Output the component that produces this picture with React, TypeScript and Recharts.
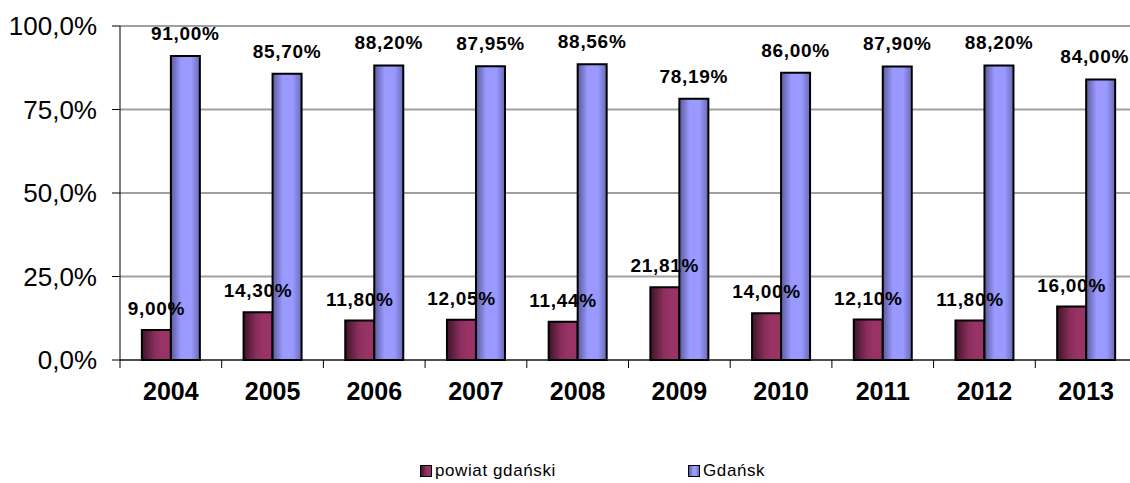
import React from 'react';
import { BarChart, Bar, XAxis, YAxis, CartesianGrid, LabelList } from 'recharts';

const years = ['2004', '2005', '2006', '2007', '2008', '2009', '2010', '2011', '2012', '2013'];
const powiatGdanski = [9.0, 14.3, 11.8, 12.05, 11.44, 21.81, 14.0, 12.1, 11.8, 16.0];
const gdansk = [91.0, 85.7, 88.2, 87.95, 88.56, 78.19, 86.0, 87.9, 88.2, 84.0];
const yTicks = [0, 25, 50, 75, 100];

const data = years.map((year, i) => ({ year, powiat: powiatGdanski[i], gdansk: gdansk[i] }));

const FONT = '"Liberation Sans", Arial, sans-serif';
const VIEW_W = 1130;
const CHART_W = 1160;
const Y_AXIS_W = 120;
const RIGHT = 23;
const BAND = (CHART_W - Y_AXIS_W - RIGHT) / years.length;
const LABEL_HALF = 36; // approx half width of a value label

const fmtPct = (v: number) => v.toFixed(2).replace('.', ',') + '%';
const fmtAxis = (v: number) => v.toFixed(1).replace('.', ',') + '%';

const YearTick = (props: any) => {
  const { x, y, payload, index } = props;
  const half = BAND / 2;
  return (
    <g>
      <line x1={x - half} y1={y} x2={x - half} y2={y + 8} stroke="#000" />
      {index === years.length - 1 && (
        <line x1={x + half} y1={y} x2={x + half} y2={y + 8} stroke="#000" />
      )}
      <text x={x} y={y + 40} textAnchor="middle" fontSize={25} fontWeight="bold" fill="#000" fontFamily={FONT}>
        {payload.value}
      </text>
    </g>
  );
};

// value label above a bar, pulled back inside the picture when it would run off the right edge
const makeLabel = (gap: number) => (props: any) => {
  const { x, y, width, value } = props;
  const cx = Number(x) + Number(width) / 2;
  const clamped = cx + LABEL_HALF > VIEW_W - 1;
  return (
    <text
      x={clamped ? VIEW_W - 1 : cx}
      y={Number(y) - gap}
      textAnchor={clamped ? 'end' : 'middle'}
      fontSize={19}
      fontWeight="bold"
      fill="#000"
      fontFamily={FONT}
      letterSpacing={0.7}
    >
      {fmtPct(Number(value))}
    </text>
  );
};

const LegendItem = ({ left, bg, text }: { left: number; bg: string; text: string }) => (
  <div style={{ position: 'absolute', left, top: 461, display: 'flex', alignItems: 'center' }}>
    <div style={{ width: 10, height: 10, border: '1px solid #000', background: bg, marginRight: 3 }} />
    <span style={{ fontFamily: FONT, fontSize: 17, letterSpacing: 0.6, color: '#000' }}>{text}</span>
  </div>
);

export default function App() {
  return (
    <div style={{ position: 'absolute', left: 0, top: 0, width: VIEW_W, height: 483, overflow: 'hidden', background: '#fff' }}>
      <BarChart
        width={CHART_W}
        height={483}
        data={data}
        margin={{ top: 26, right: RIGHT, left: 0, bottom: 63 }}
        barCategoryGap="21.5%"
        barGap={0}
      >
        <defs>
          <linearGradient id="gradMaroon" x1="0" y1="0" x2="1" y2="0">
            <stop offset="0%" stopColor="#3f1429" />
            <stop offset="45%" stopColor="#8a2e5c" />
            <stop offset="70%" stopColor="#993366" />
            <stop offset="100%" stopColor="#993366" />
          </linearGradient>
          <linearGradient id="gradBlue" x1="0" y1="0" x2="1" y2="0">
            <stop offset="0%" stopColor="#5a5a9c" />
            <stop offset="35%" stopColor="#9999ff" />
            <stop offset="70%" stopColor="#9999ff" />
            <stop offset="100%" stopColor="#6a6ab4" />
          </linearGradient>
        </defs>
        <CartesianGrid vertical={false} stroke="#a0a0a0" strokeWidth={2} />
        <XAxis
          dataKey="year"
          interval={0}
          tickLine={false}
          tickSize={0}
          tickMargin={0}
          height={60}
          axisLine={{ stroke: '#000' }}
          tick={<YearTick />}
        />
        <YAxis
          width={Y_AXIS_W}
          domain={[0, 100]}
          ticks={yTicks}
          tickFormatter={fmtAxis}
          tickSize={8}
          tickMargin={15}
          axisLine={{ stroke: '#000' }}
          tickLine={{ stroke: '#000' }}
          tick={{ fontSize: 26, fill: '#000', fontFamily: FONT }}
        />
        <Bar dataKey="powiat" fill="url(#gradMaroon)" stroke="#000" strokeWidth={2} isAnimationActive={false}>
          <LabelList dataKey="powiat" content={makeLabel(15)} />
        </Bar>
        <Bar dataKey="gdansk" fill="url(#gradBlue)" stroke="#000" strokeWidth={2} isAnimationActive={false}>
          <LabelList dataKey="gdansk" content={makeLabel(16)} />
        </Bar>
      </BarChart>
      <LegendItem left={420} bg="linear-gradient(to right, #3f1429, #993366 60%)" text="powiat gdański" />
      <LegendItem left={688} bg="linear-gradient(to right, #5a5a9c, #9999ff 40%, #9999ff 70%, #6a6ab4)" text="Gdańsk" />
    </div>
  );
}
